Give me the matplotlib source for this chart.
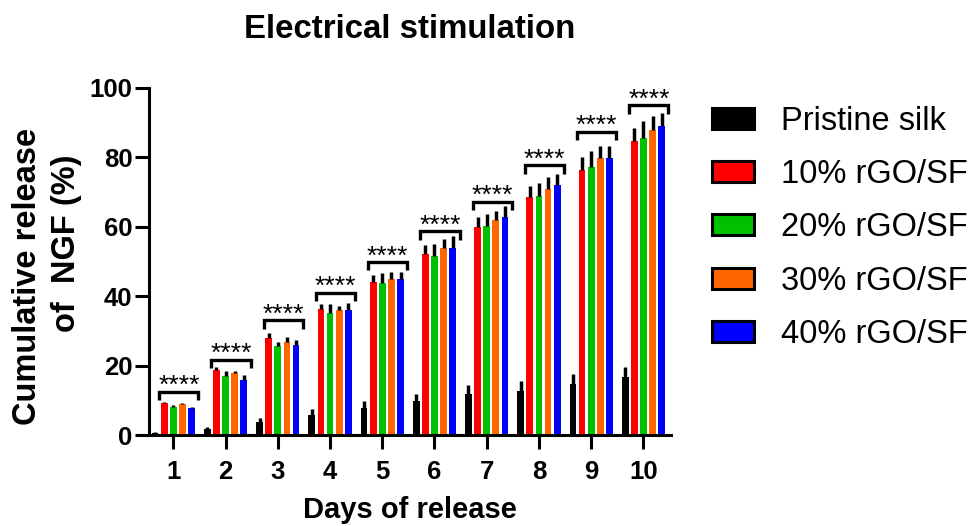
import matplotlib

matplotlib.use("Agg")
import matplotlib.pyplot as plt
import numpy as np
from matplotlib.patches import Patch

plt.rcParams.update(
    {
        "font.family": ["Liberation Sans", "DejaVu Sans"],
        "axes.linewidth": 2.2,
        "axes.spines.top": False,
        "axes.spines.right": False,
    }
)

days = [1, 2, 3, 4, 5, 6, 7, 8, 9, 10]
groups = ["Pristine silk", "10% rGO/SF", "20% rGO/SF", "30% rGO/SF", "40% rGO/SF"]
colors = ["#000000", "#ff0000", "#00c000", "#ff6600", "#0000ff"]

pristine = [0.7, 1.7, 3.8, 5.8, 7.8, 9.8, 11.7, 12.8, 14.7, 16.6]
rgo10 = [9.2, 18.8, 27.9, 36.2, 44.0, 52.0, 59.8, 68.5, 76.3, 84.6]
rgo20 = [8.2, 16.9, 25.5, 35.2, 43.8, 51.7, 60.1, 68.8, 77.1, 85.6]
rgo30 = [8.8, 17.9, 26.8, 35.9, 44.8, 53.8, 61.8, 70.8, 79.8, 87.8]
rgo40 = [7.8, 15.8, 25.8, 35.9, 44.8, 53.8, 62.9, 71.9, 79.9, 89.0]

pristine_err = [0.3, 0.5, 1.0, 1.6, 2.1, 2.0, 2.8, 2.7, 2.9, 2.9]
rgo10_err = [0.4, 0.9, 1.4, 1.6, 2.0, 2.6, 2.9, 3.3, 3.8, 3.9]
rgo20_err = [0.4, 1.6, 1.4, 2.6, 2.9, 3.3, 3.6, 3.9, 4.6, 4.8]
rgo30_err = [0.4, 0.5, 1.4, 1.4, 2.1, 2.8, 2.8, 3.4, 3.4, 4.0]
rgo40_err = [0.4, 1.6, 1.5, 2.0, 2.2, 3.5, 3.2, 3.3, 3.3, 3.8]

# height of the significance bracket above each day
bracket_y = [12.5, 21.6, 33.0, 41.0, 49.8, 58.7, 67.1, 77.7, 87.3, 95.0]
sig_label = "****"

series = [pristine, rgo10, rgo20, rgo30, rgo40]
errors = [pristine_err, rgo10_err, rgo20_err, rgo30_err, rgo40_err]

fig = plt.figure(figsize=(9.74, 5.26), dpi=100)
ax = fig.add_axes([0.153, 0.173, 0.536, 0.660])

x = np.array(days, dtype=float)
pitch = 0.175
width = 0.13
for i, (vals, errs, c) in enumerate(zip(series, errors, colors)):
    xs = x + (i - 2) * pitch
    ax.bar(xs, vals, width=width, color=c, zorder=2)
    ax.errorbar(xs, vals, yerr=[np.zeros(len(errs)), errs], fmt="none",
                ecolor="black", elinewidth=2.5, capsize=0, zorder=3)

for d, by in zip(x, bracket_y):
    x0, x1 = d - 0.27, d + 0.48
    ax.plot([x0, x0, x1, x1], [by - 2.4, by, by, by - 2.4], color="black",
            lw=2.4, solid_joinstyle="miter", solid_capstyle="butt", zorder=4)
    ax.text((x0 + x1) / 2, by - 1.8, sig_label, ha="center", va="bottom",
            fontsize=19, zorder=4)

ax.set_xlim(0.534, 10.53)
ax.set_ylim(0, 100)
ax.set_xticks(days)
ax.set_yticks([0, 20, 40, 60, 80, 100])
ax.tick_params(axis="y", length=10, width=2.2, pad=2, labelsize=18.5)
ax.tick_params(axis="x", length=10, width=2.2, pad=8, labelsize=18.5)
for lab in ax.get_xticklabels() + ax.get_yticklabels():
    lab.set_fontweight("bold")

fig.text(0.4205, 1 - 38.5 / 526, "Electrical stimulation", ha="center",
         va="baseline", fontsize=23.8, fontweight="bold")
fig.text(0.4205, 1 - 518 / 526, "Days of release", ha="center",
         va="baseline", fontsize=21, fontweight="bold")
fig.text(28 / 974, 1 - 276 / 526, "Cumulative release", rotation=90,
         ha="center", va="center", fontsize=23.5, fontweight="bold")
fig.text(66 / 974, 1 - 243 / 526, "of  NGF (%)", rotation=90,
         ha="center", va="center", fontsize=23.5, fontweight="bold")

handles = [
    Patch(facecolor=c, edgecolor="black", linewidth=2.2) for c in colors
]
fig.legend(handles, groups, loc="upper left", bbox_to_anchor=(712 / 974, 1 - 106 / 526),
           frameon=False, fontsize=23.5, handlelength=1.3, handleheight=0.62,
           handletextpad=0.8, labelspacing=0.68, borderpad=0, borderaxespad=0)

fig.savefig("out.png", dpi=100)
